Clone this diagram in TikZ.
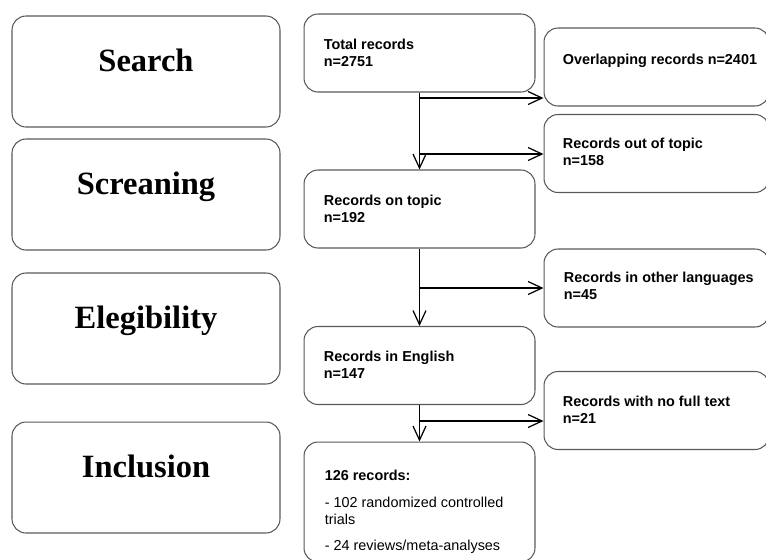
\documentclass[tikz,border=0pt]{standalone}
\usepackage{fontspec}
\setmainfont{Liberation Serif}
\newfontfamily\arialfont{Liberation Sans}
\usetikzlibrary{arrows.meta}
\tikzset{
  stage/.style={draw=black!65, line width=0.6pt, rounded corners=2.8mm,
    minimum width=5.36cm, minimum height=2.22cm, inner sep=0pt},
  stagetext/.style={anchor=base, inner sep=0pt,
    font=\fontsize{18.5}{22}\selectfont\bfseries},
  record/.style={draw=black!65, line width=0.6pt, rounded corners=2.8mm,
    minimum width=4.62cm, minimum height=1.56cm, inner sep=0pt},
  side/.style={record, minimum width=4.5cm},
  recordtext/.style={anchor=north west, inner sep=0pt, align=left,
    font=\arialfont\fontsize{8.2}{9.7}\selectfont\bfseries},
  flow/.style={line width=0.7pt, -{Straight Barb[length=2.8mm,width=2.6mm]}}
}

\begin{document}
\begin{tikzpicture}[x=0.02cm, y=-0.02cm]
	\useasboundingbox (0,0) rectangle (766,559);
	\clip (0,0) rectangle (766,559);

	% stages
	\node[stage] (search) at (146,71.5) {};
	\node[stage] (screen) at (146,194.5) {};
	\node[stage] (elig) at (146,328.5) {};
	\node[stage] (incl) at (146,477.5) {};
	\node[stagetext] (searchtx) at (search.center) {Search};
	\node[stagetext] (screentx) at (screen.center) {Screaning};
	\node[stagetext] (eligtx) at (elig.center) {Elegibility};
	\node[stagetext] (incltx) at (incl.center) {Inclusion};

	% main flow
	\node[record] (total) at (419.5,53) {};
	\node[record] (topic) at (419.5,209) {};
	\node[record] (english) at (419.5,365.5) {};
	\node[record, minimum height=2.4cm] (final) at (419.5,502) {};
	\node[recordtext] (totaltx) at ([shift={(20,25)}]total.north west) {Total records\\n=2751};
	\node[recordtext] (topictx) at ([shift={(20,25)}]topic.north west) {Records on topic\\n=192};
	\node[recordtext] (englishtx) at ([shift={(20,25)}]english.north west) {Records in English\\n=147};
	\node[recordtext, font=\arialfont\fontsize{8.2}{9.7}\selectfont] (finaltx) at ([shift={(21,28)}]final.north west)
		{\bfseries 126 records:\\[5.7pt]- 102 randomized controlled\\trials\\[5.1pt]- 24 reviews/meta-analyses};

	% excluded
	\node[side] (over) at (656.5,67) {};
	\node[side] (offtopic) at (656.5,153.5) {};
	\node[side] (lang) at (656.5,288) {};
	\node[side] (nofull) at (656.5,410.5) {};
	\node[recordtext] (overtx) at ([shift={(19,26)}]over.north west) {Overlapping records n=2401};
	\node[recordtext] (offtopictx) at ([shift={(19,24)}]offtopic.north west) {Records out of topic\\n=158};
	\node[recordtext] (langtx) at ([shift={(20,23)}]lang.north west) {Records in other languages\\n=45};
	\node[recordtext] (nofulltx) at ([shift={(19,25)}]nofull.north west) {Records with no full text\\n=21};

	% arrows
	\coordinate (b1) at (419.5,98);
	\coordinate (b2) at (419.5,154);
	\coordinate (b3) at (419.5,288);
	\coordinate (b4) at (419.5,421);
	\draw[flow] (total) -- (topic);
	\draw[flow] (topic) -- (english);
	\draw[flow] (english) -- (final);
	\draw[flow] (b1) -- (b1 -| over.west);
	\draw[flow] (b2) -- (b2 -| offtopic.west);
	\draw[flow] (b3) -- (b3 -| lang.west);
	\draw[flow] (b4) -- (b4 -| nofull.west);
\end{tikzpicture}
\end{document}
